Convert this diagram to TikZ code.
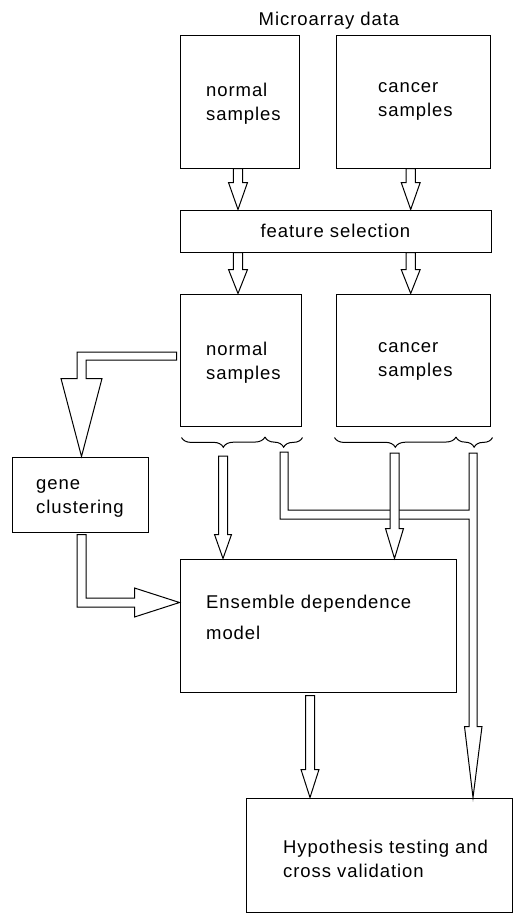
\documentclass[tikz,border=0pt]{standalone}
\usepackage{fontspec}
\usetikzlibrary{calc,decorations.pathreplacing}
\newfontfamily\lblfont{Liberation Sans}[LetterSpace=5]

% hollow vertical block arrow: from, to, shaft half width, head half width, head length
\newcommand\blockdown[5]{%
  \draw[blk] let \p1=(#1), \p2=(#2) in
    (\x1-#3pt,\y1) -- (\x1-#3pt,\y2+#5pt) -- (\x1-#4pt,\y2+#5pt) -- (\x1,\y2)
    -- (\x1+#4pt,\y2+#5pt) -- (\x1+#3pt,\y2+#5pt) -- (\x1+#3pt,\y1) -- cycle;}

\begin{document}
\begin{tikzpicture}[x=1pt,y=-1pt,
  box/.style={draw, line width=1pt, rectangle, inner sep=0pt, fill=white},
  txt/.style={font=\lblfont\fontsize{18.5}{24}\selectfont, inner sep=0pt, align=left, text=black},
  blk/.style={draw, fill=white, line width=1pt, line join=miter},
  brc/.style={draw, line width=1pt, decorate, decoration={brace, mirror, amplitude=10pt}}]
\useasboundingbox (0,0) rectangle (516,913);

% title
\node[txt, anchor=base] (title) at (329,25) {Microarray data};

% input data
\node[box, minimum width=119pt, minimum height=133pt] (nA) at (239.5,101.5) {};
\node[box, minimum width=154pt, minimum height=133pt] (nB) at (413,101.5) {};
\node[txt, anchor=west] (nAt) at (206,103.9) {normal\\samples};
\node[txt, anchor=west] (nBt) at (378,101.3) {cancer\\samples};

% feature selection
\node[box, minimum width=311pt, minimum height=42pt, txt] (fs) at (335.5,231) {feature selection};

% selected data
\node[box, minimum width=121pt, minimum height=132pt] (nC) at (240.5,360) {};
\node[box, minimum width=154pt, minimum height=132pt] (nD) at (413,360) {};
\node[txt, anchor=west] (nCt) at (206,362.5) {normal\\samples};
\node[txt, anchor=west] (nDt) at (378,361.2) {cancer\\samples};

% gene clustering
\node[box, minimum width=136pt, minimum height=75pt] (gc) at (80,494.5) {};
\node[txt, anchor=west] (gct) at (36,498.9) {gene\\clustering};

% model
\node[box, minimum width=276pt, minimum height=133pt] (ens) at (318,625.5) {};
\node[txt, anchor=west, font=\lblfont\fontsize{18.5}{31}\selectfont] (enst) at (206,617.7) {Ensemble dependence\\model};

% evaluation
\node[box, minimum width=266pt, minimum height=114pt] (hyp) at (379,855) {};
\node[txt, anchor=west] (hypt) at (283,858.6) {Hypothesis testing and\\cross validation};

% arrow start points
\coordinate (aout) at ($(nA.south)+(-1.5,0)$);
\coordinate (bout) at ($(nB.south)+(-2.3,0)$);
\coordinate (t1) at (223,456);
\coordinate (t2) at (284,452);
\coordinate (t3) at (394.5,453);
\coordinate (t4) at (473,453);
\coordinate (eo) at ($(ens.south)+(-8,3)$);

% braces splitting each sample set
\draw[brc] ($(nC.south west)+(2,11)$) -- (265,437);
\draw[brc] (265,437) -- ($(nC.south east)+(1,11)$);
\draw[brc] ($(nD.south west)+(-1,11)$) -- (456,437);
\draw[brc] (456,437) -- ($(nD.south east)+(2,11)$);

% data through feature selection
\blockdown{aout}{fs.north}{4.7}{9.5}{27}
\blockdown{bout}{fs.north}{4.7}{9.5}{27}
\blockdown{aout |- fs.south}{nC.north}{4.7}{9.5}{24}
\blockdown{bout |- fs.south}{nD.north}{4.7}{9.5}{24}

% normal samples to gene clustering
\draw[blk] let \p1=(nC.west), \p2=(gc.north) in
  (\x1-3pt,\y1+8pt) -- (\x2-3pt,\y1+8pt) -- (\x2-3pt,\y2+78pt) -- (\x2-19pt,\y2+78pt)
  -- (\x2+1.5pt,\y2) -- (\x2+22pt,\y2+78pt) -- (\x2+6pt,\y2+78pt) -- (\x2+6pt,\y1)
  -- (\x1-3pt,\y1) -- cycle;

% gene clustering to model
\draw[blk] let \p1=(gc.south), \p2=(ens.west) in
  (\x1-3pt,\y1-2pt) -- (\x1-3pt,\y2+18.5pt) -- (\x2-45pt,\y2+18.5pt) -- (\x2-45pt,\y2+8.5pt)
  -- (\x2,\y2+23pt) -- (\x2-45pt,\y2+37.5pt) -- (\x2-45pt,\y2+27.5pt) -- (\x1+6pt,\y2+27.5pt)
  -- (\x1+6pt,\y1-2pt) -- cycle;

% held-out parts joined and sent to evaluation
\draw[blk] let \p1=(t2), \p2=(t4), \p3=(hyp.north) in
  (\x1-4pt,\y1) -- (\x1-4pt,\y2-66pt) -- (\x2-4pt,\y2-66pt) -- (\x2-4pt,\y3+71pt)
  -- (\x2-8.5pt,\y3+71pt) -- (\x2,\y3) -- (\x2+9pt,\y3+71pt) -- (\x2+4pt,\y3+71pt)
  -- (\x2+4pt,\y2) -- (\x2-4pt,\y2) -- (\x2-4pt,\y2-57pt) -- (\x1+4pt,\y2-57pt)
  -- (\x1+4pt,\y1) -- cycle;

% training parts into the model
\blockdown{t1}{ens.north}{4.5}{8.5}{24}
\blockdown{t3}{ens.north}{4.5}{9}{30}

% model to evaluation
\blockdown{eo}{hyp.north}{4.5}{9}{28}
\end{tikzpicture}
\end{document}
